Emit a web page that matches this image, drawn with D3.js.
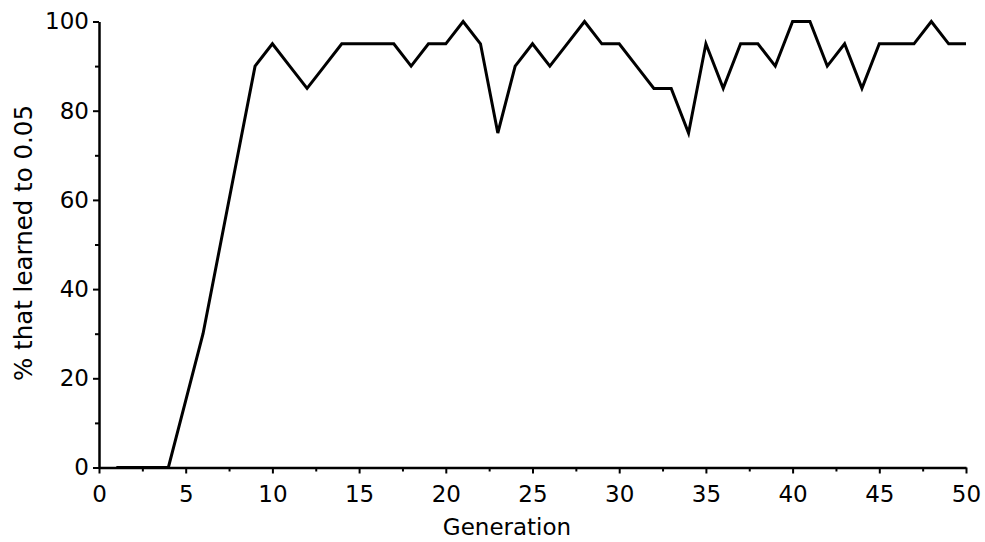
<!DOCTYPE html>
<html>
<head>
<meta charset="utf-8">
<script src="https://cdn.jsdelivr.net/npm/d3@7"></script>
<style>
  body { margin: 0; background: #fff; }
  .chart text { font-family: "DejaVu Sans", sans-serif; fill: #000; }
</style>
</head>
<body>
<div class="chart"></div>
<script>

// generation number and % of runs that learned to 0.05
const generations = d3.range(1, 51);
const percentLearned = [
  0, 0, 0, 0, 15, 30, 50, 70, 90, 95,
  90, 85, 90, 95, 95, 95, 95, 90, 95, 95,
  100, 95, 75, 90, 95, 90, 95, 100, 95, 95,
  90, 85, 85, 75, 95, 85, 95, 95, 90, 100,
  100, 90, 95, 85, 95, 95, 95, 100, 95, 95
];

const xTicks = [0, 5, 10, 15, 20, 25, 30, 35, 40, 45, 50];
const xMinorTicks = [2.5, 7.5, 12.5, 17.5, 22.5, 27.5, 32.5, 37.5, 42.5, 47.5];
const yTicks = [0, 20, 40, 60, 80, 100];
const yMinorTicks = [10, 30, 50, 70, 90];

document.addEventListener('DOMContentLoaded', () => {

  const width = 985;
  const height = 542;
  const margin = {top: 21.5, left: 99, right: 19, bottom: 74.5};

  const data = generations.map((g, i) => ({gen: g, pct: percentLearned[i]}));

  const xScale = d3.scaleLinear()
    .domain([0, 50])
    .range([margin.left, width - margin.right]);

  const yScale = d3.scaleLinear()
    .domain([0, 100])
    .range([height - margin.bottom, margin.top]);

  const svg = d3.select('.chart')
    .append('svg')
    .attr('width', width)
    .attr('height', height);

  // minor ticks first, no labels
  svg.append('g')
    .attr('transform', `translate(0,${yScale(0)})`)
    .call(d3.axisBottom(xScale).tickValues(xMinorTicks).tickSize(4).tickSizeOuter(0).tickFormat(''))
    .call(g => g.select('.domain').remove());

  svg.append('g')
    .attr('transform', `translate(${xScale(0)},0)`)
    .call(d3.axisLeft(yScale).tickValues(yMinorTicks).tickSize(4).tickSizeOuter(0).tickFormat(''))
    .call(g => g.select('.domain').remove());

  //Axis
  svg.append('g')
    .attr('transform', `translate(0,${yScale(0)})`)
    .call(d3.axisBottom(xScale).tickValues(xTicks).tickSize(6).tickSizeOuter(0).tickPadding(12));

  svg.append('g')
    .attr('transform', `translate(${xScale(0)},0)`)
    .call(d3.axisLeft(yScale).tickValues(yTicks).tickSize(6).tickSizeOuter(0).tickPadding(4));

  svg.selectAll('.tick line').attr('stroke', '#000').attr('stroke-width', 2);
  svg.selectAll('.domain').attr('stroke', '#000').attr('stroke-width', 2.5);
  svg.selectAll('.tick text')
    .attr('font-size', 23)
    .attr('font-family', '"DejaVu Sans", sans-serif')
    .attr('fill', '#000');

  //Data line
  const line = d3.line()
    .x(d => xScale(d.gen))
    .y(d => yScale(d.pct));

  svg.append('path')
    .datum(data)
    .attr('fill', 'none')
    .attr('stroke', '#000')
    .attr('stroke-width', 3)
    .attr('stroke-linejoin', 'miter')
    .attr('d', line);

  //Axis labels
  svg.append('text')
    .attr('x', 507)
    .attr('y', 535)
    .attr('text-anchor', 'middle')
    .attr('font-size', 23)
    .text('Generation');

  svg.append('text')
    .attr('transform', 'rotate(-90)')
    .attr('x', -243)
    .attr('y', 32)
    .attr('text-anchor', 'middle')
    .attr('font-size', 24.5)
    .text('% that learned to 0.05');
});
</script>
</body>
</html>
